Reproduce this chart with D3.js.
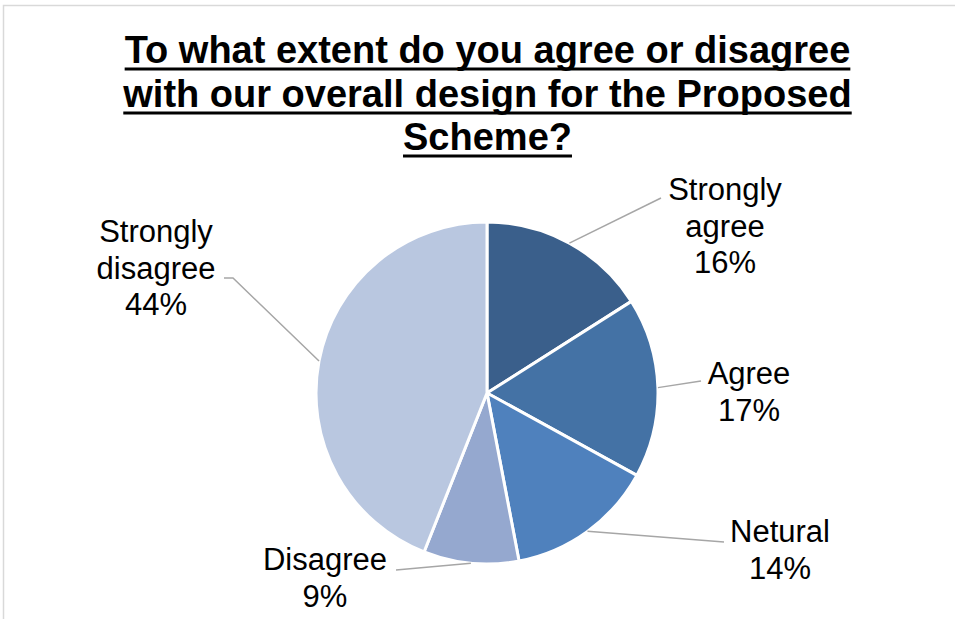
<!DOCTYPE html>
<html>
<head>
<meta charset="utf-8">
<script src="https://cdn.jsdelivr.net/npm/d3@7"></script>
<style>
  html, body { margin: 0; padding: 0; background: #fff; }
  svg { display: block; }
  text { font-family: "Liberation Sans", Arial, sans-serif; fill: #000; }
</style>
</head>
<body>
<svg id="chart" width="955" height="619"></svg>
<script>
// Survey responses (share of respondents, %)
const categories = ["Strongly agree", "Agree", "Netural", "Disagree", "Strongly disagree"];
const values = [16, 17, 14, 9, 44];
const sliceColors = ["#3a5f8b", "#4472a5", "#4f81bd", "#95a8cf", "#b9c7e0"];
const titleLines = ["To what extent do you agree or disagree", "with our overall design for the Proposed", "Scheme?"];

// Label placement: lines of each label and where its block sits
const labelLayout = [
  { lines: ["Strongly", "agree", "16%"], x: 725, y: 200, end: [661, 198] },
  { lines: ["Agree", "17%"], x: 749, y: 384, end: [701, 381] },
  { lines: ["Netural", "14%"], x: 780, y: 542, end: [724, 542] },
  { lines: ["Disagree", "9%"], x: 325, y: 570, end: [396, 570] },
  { lines: ["Strongly", "disagree", "44%"], x: 156, y: 242, end: [224, 278], elbow: [233, 278] }
];

const svg = d3.select("#chart");

// Chart area frame
svg.append("rect")
  .attr("x", 3.5).attr("y", 5.5)
  .attr("width", 960).attr("height", 630)
  .attr("fill", "#fff").attr("stroke", "#d9d9d9").attr("stroke-width", 1.5);

// Title, bold and underlined
const title = svg.append("g");
const titleBaselines = [63, 107, 150];
titleLines.forEach((line, i) => {
  const t = title.append("text")
    .attr("x", 487.5).attr("y", titleBaselines[i])
    .attr("text-anchor", "middle")
    .style("font-size", "38px").style("font-weight", "bold")
    .text(line);
  const w = t.node().getComputedTextLength();
  title.append("rect")
    .attr("x", 487.5 - w / 2).attr("y", titleBaselines[i] + 4.5)
    .attr("width", w).attr("height", 3)
    .attr("fill", "#000");
});

// Pie
const cx = 487, cy = 393, radius = 171;
const pie = d3.pie().sort(null).value(d => d)(values);
const arc = d3.arc().innerRadius(0).outerRadius(radius);
const g = svg.append("g").attr("transform", `translate(${cx},${cy})`);

g.selectAll("path.slice")
  .data(pie)
  .join("path")
  .attr("class", "slice")
  .attr("d", arc)
  .attr("fill", (d, i) => sliceColors[i])
  .attr("stroke", "#fff")
  .attr("stroke-width", 3)
  .attr("stroke-linejoin", "round");

// Leader lines from the middle of each slice's rim to its label
const rim = d3.arc().innerRadius(radius).outerRadius(radius);
pie.forEach((d, i) => {
  const [px, py] = rim.centroid(d);
  const L = labelLayout[i];
  const pts = [[cx + px, cy + py]];
  if (L.elbow) pts.push(L.elbow);
  pts.push(L.end);
  svg.append("path")
    .attr("d", d3.line()(pts))
    .attr("fill", "none")
    .attr("stroke", "#a6a6a6")
    .attr("stroke-width", 1.5);
});

// Data labels
labelLayout.forEach((L, i) => {
  const t = svg.append("text")
    .attr("text-anchor", "middle")
    .style("font-size", "31px");
  L.lines.forEach((s, j) => {
    t.append("tspan").attr("x", L.x).attr("y", L.y + j * 36.5).text(s);
  });
});
</script>
</body>
</html>
